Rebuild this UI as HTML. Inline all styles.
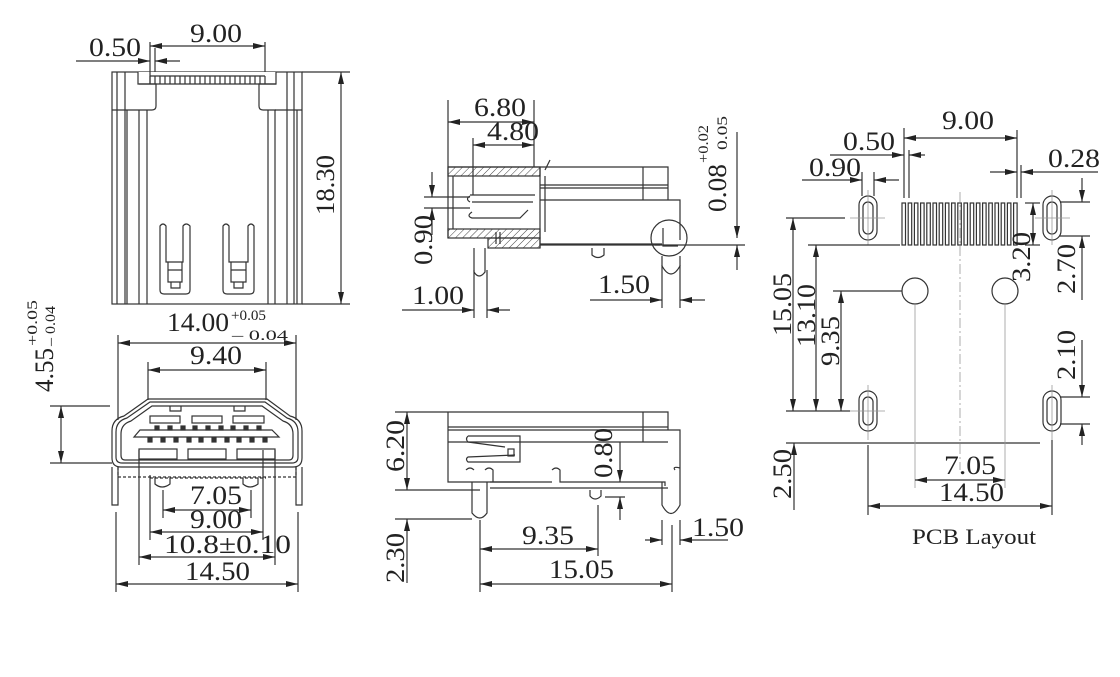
<!DOCTYPE html>
<html><head><meta charset="utf-8"><style>
html,body{margin:0;padding:0;background:#fff}
svg{display:block}
text{font-family:"Liberation Serif",serif;fill:#222}
</style></head><body>
<svg width="1120" height="677" viewBox="0 0 1120 677" xmlns="http://www.w3.org/2000/svg">
<defs>
<marker id="a" viewBox="0 0 12 6" refX="12" refY="3" markerWidth="12" markerHeight="6" markerUnits="userSpaceOnUse" orient="auto-start-reverse"><path d="M0,0 L12,3 L0,6 Z" fill="#222"/></marker>
<pattern id="h" width="5" height="5" patternUnits="userSpaceOnUse" patternTransform="rotate(45)"><line x1="0" y1="0" x2="0" y2="5" stroke="#444" stroke-width="1"/></pattern>
</defs>
<g stroke="#333" stroke-width="1.2" fill="none">
<!-- ===== Top-left view ===== -->
<rect x="112" y="72" width="190" height="232"/>
<line x1="117" y1="72" x2="117" y2="304"/><line x1="125" y1="72" x2="125" y2="304"/><line x1="127" y1="110" x2="127" y2="304"/><line x1="139" y1="110" x2="139" y2="304"/><line x1="147" y1="110" x2="147" y2="304"/>
<line x1="268" y1="110" x2="268" y2="304"/><line x1="275" y1="110" x2="275" y2="304"/><line x1="287" y1="72" x2="287" y2="304"/><line x1="294" y1="72" x2="294" y2="304"/><line x1="297" y1="110" x2="297" y2="304"/>
<line x1="112" y1="110" x2="139" y2="110"/><line x1="275" y1="110" x2="302" y2="110"/>
<path d="M138,72 V84 H276 V72" fill="#fff"/>
<path d="M139,84 H156 V106 Q156,110 152,110 H139"/><path d="M276,84 H259 V106 Q259,110 263,110 H276"/>
<path d="M150,84 V76 M155,84 V76 M160,84 V76 M165,84 V76 M170,84 V76 M175,84 V76 M180,84 V76 M185,84 V76 M190,84 V76 M195,84 V76 M200,84 V76 M205,84 V76 M210,84 V76 M215,84 V76 M220,84 V76 M225,84 V76 M230,84 V76 M235,84 V76 M240,84 V76 M245,84 V76 M250,84 V76 M255,84 V76 M260,84 V76 M265,84 V76"/>
<path d="M150,76 H265"/>
<path d="M160,226 Q163,222 166,226 V262 H183 V226 Q186,222 190,226 V290 Q190,294 186,294 H164 Q160,294 160,290 Z"/>
<path d="M168,262 V282 H182 V262 M168,270 H182 M171,282 V288 H180 V282"/>
<path d="M223,226 Q226,222 229,226 V262 H248 V226 Q251,222 254,226 V290 Q254,294 250,294 H227 Q223,294 223,290 Z"/>
<path d="M231,262 V282 H246 V262 M231,270 H246 M234,282 V288 H243 V282"/>
<line x1="302" y1="72" x2="350" y2="72"/><line x1="302" y1="304" x2="350" y2="304"/>
<line x1="341" y1="72" x2="341" y2="304" marker-start="url(#a)" marker-end="url(#a)"/>
<line x1="150" y1="42" x2="150" y2="84"/><line x1="265" y1="42" x2="265" y2="72"/>
<line x1="150" y1="46" x2="265" y2="46" marker-start="url(#a)" marker-end="url(#a)"/>
<line x1="76" y1="61" x2="150" y2="61" marker-end="url(#a)"/><line x1="180" y1="61" x2="155" y2="61" marker-end="url(#a)"/><line x1="155" y1="48" x2="155" y2="72"/>

<!-- ===== Front view ===== -->
<line x1="118" y1="335" x2="118" y2="420"/><line x1="296" y1="335" x2="296" y2="420"/>
<line x1="118" y1="343" x2="296" y2="343" marker-start="url(#a)" marker-end="url(#a)"/>
<line x1="148" y1="362" x2="148" y2="400"/><line x1="266" y1="362" x2="266" y2="400"/>
<line x1="148" y1="370" x2="266" y2="370" marker-start="url(#a)" marker-end="url(#a)"/>
<path d="M148,399 H267 L290,416 Q302,419 302,431 V458 Q302,467 293,467 H121 Q112,467 112,458 V431 Q112,419 124,416 Z"/>
<path d="M150,402 H265 L287,418 Q298,421 298,432 V457 Q298,463 292,463 H122 Q116,463 116,457 V432 Q116,421 127,418 Z"/>
<path d="M152,406 H262 L283,421 Q293,424 293,434 V455 Q293,460 289,460 H125 Q121,460 121,455 V434 Q121,424 131,421 Z"/>
<path d="M170,406 V411 H181 V406 M234,406 V411 H245 V406"/>
<rect x="150" y="416" width="30" height="7"/><rect x="192" y="416" width="30" height="7"/><rect x="233" y="416" width="31" height="7"/>
<path d="M140,430 H272 L279,437 H134 Z"/>
<g fill="#333">
<rect x="155" y="426" width="4" height="4"/><rect x="168" y="426" width="4" height="4"/><rect x="181" y="426" width="4" height="4"/><rect x="193" y="426" width="4" height="4"/><rect x="206" y="426" width="4" height="4"/><rect x="219" y="426" width="4" height="4"/><rect x="231" y="426" width="4" height="4"/><rect x="244" y="426" width="4" height="4"/><rect x="257" y="426" width="4" height="4"/>
<rect x="148" y="438" width="4" height="4"/><rect x="161" y="438" width="4" height="4"/><rect x="174" y="438" width="4" height="4"/><rect x="187" y="438" width="4" height="4"/><rect x="199" y="438" width="4" height="4"/><rect x="212" y="438" width="4" height="4"/><rect x="225" y="438" width="4" height="4"/><rect x="237" y="438" width="4" height="4"/><rect x="250" y="438" width="4" height="4"/><rect x="263" y="438" width="4" height="4"/>
</g>
<rect x="139" y="449" width="38" height="10"/><rect x="188" y="449" width="38" height="10"/><rect x="237" y="449" width="38" height="10"/>
<path d="M118,467 V477 H296 V467 M150,478 H266" stroke-dasharray="3 2"/>
<path d="M155,478 V484 Q162,490 170,484 V478 M243,478 V484 Q250,490 258,484 V478"/>
<path d="M112,467 V505 H118 V467 M296,467 V505 H302 V467"/>
<line x1="50" y1="406" x2="110" y2="406"/><line x1="50" y1="463" x2="112" y2="463"/>
<line x1="61" y1="406" x2="61" y2="463" marker-start="url(#a)" marker-end="url(#a)"/>
<line x1="163" y1="490" x2="163" y2="518"/><line x1="251" y1="490" x2="251" y2="518"/>
<line x1="163" y1="510" x2="251" y2="510" marker-start="url(#a)" marker-end="url(#a)"/>
<line x1="150" y1="475" x2="150" y2="540"/><line x1="263" y1="450" x2="263" y2="540"/>
<line x1="150" y1="532" x2="263" y2="532" marker-start="url(#a)" marker-end="url(#a)"/>
<line x1="139" y1="450" x2="139" y2="565"/><line x1="275" y1="450" x2="275" y2="565"/>
<line x1="139" y1="557" x2="275" y2="557" marker-start="url(#a)" marker-end="url(#a)"/>
<line x1="116" y1="512" x2="116" y2="592"/><line x1="298" y1="512" x2="298" y2="592"/>
<line x1="116" y1="584" x2="298" y2="584" marker-start="url(#a)" marker-end="url(#a)"/>

<!-- ===== Side view top ===== -->
<rect x="448" y="167" width="92" height="9" fill="url(#h)"/>
<rect x="448" y="229" width="92" height="9" fill="url(#h)"/>
<rect x="488" y="238" width="52" height="10" fill="url(#h)"/>
<path d="M448,167 H668 V200 H680 V240 M448,167 V238 M453,176 V229 M540,167 V248 M545,176 V232 M540,185 H668 M540,188 H668 M540,200 H668 V185 M643,167 V200"/>
<path d="M540,244 H662 M496,232 V244 M500,232 V244 M660,245 H540"/>
<path d="M470,195 H535 M472,202 H533 M472,212 Q466,216 472,218 H520 L528,210"/>
<path d="M470,196 Q465,199 470,202 M545,170 L550,160"/>
<circle cx="669" cy="238" r="18"/><path d="M663,228 V246 H678"/>
<path d="M474,248 V272 Q479,280 485,272 V248"/><path d="M662,256 V266 Q671,282 680,266 V256"/>
<path d="M592,248 V255 Q598,260 604,255 V248"/>
<line x1="448" y1="100" x2="448" y2="167"/><line x1="534" y1="100" x2="534" y2="167"/><line x1="473" y1="138" x2="473" y2="195"/>
<line x1="448" y1="122" x2="534" y2="122" marker-start="url(#a)" marker-end="url(#a)"/>
<line x1="473" y1="145" x2="534" y2="145" marker-start="url(#a)" marker-end="url(#a)"/>
<line x1="424" y1="197" x2="470" y2="197"/><line x1="424" y1="208" x2="470" y2="208"/>
<line x1="432" y1="172" x2="432" y2="197" marker-end="url(#a)"/><line x1="432" y1="235" x2="432" y2="208" marker-end="url(#a)"/>
<line x1="737" y1="132" x2="737" y2="238" marker-end="url(#a)"/><line x1="737" y1="270" x2="737" y2="245" marker-end="url(#a)"/>
<line x1="655" y1="245" x2="745" y2="245"/>
<line x1="474" y1="270" x2="474" y2="318"/><line x1="487" y1="270" x2="487" y2="318"/>
<line x1="402" y1="310" x2="474" y2="310" marker-end="url(#a)"/><line x1="510" y1="310" x2="487" y2="310" marker-end="url(#a)"/>
<line x1="662" y1="265" x2="662" y2="308"/><line x1="680" y1="265" x2="680" y2="308"/>
<line x1="590" y1="300" x2="662" y2="300" marker-end="url(#a)"/><line x1="705" y1="300" x2="680" y2="300" marker-end="url(#a)"/>

<!-- ===== Side view bottom ===== -->
<path d="M448,412 H668 V430 H680 V490 M448,412 V482 H520 M448,427 H668 M448,430 H668 M448,442 H668 M643,412 V442"/>
<path d="M468,436 H520 V462 H468 Q465,459 468,457 L515,455 M468,436 Q465,439 468,442 L505,447"/>
<rect x="508" y="449" width="6" height="7"/>
<path d="M472,482 V513 Q480,523 487,513 V482 M466,470 Q470,466 474,470 M485,470 Q489,466 493,470 V482 M552,470 Q556,466 560,470 V482 H665 V486 M490,488 H668 M490,482 H552"/>
<path d="M662,482 V505 Q671,522 680,505 V490 M675,470 Q672,466 680,468"/>
<path d="M590,490 V496 Q595,502 601,496 V490"/>
<line x1="395" y1="412" x2="448" y2="412"/><line x1="395" y1="490" x2="480" y2="490"/>
<line x1="407" y1="412" x2="407" y2="490" marker-start="url(#a)" marker-end="url(#a)"/>
<line x1="395" y1="519" x2="472" y2="519"/>
<line x1="407" y1="519" x2="407" y2="583" marker-start="url(#a)"/>
<line x1="620" y1="442" x2="620" y2="482" marker-end="url(#a)"/><line x1="620" y1="520" x2="620" y2="497" marker-end="url(#a)"/>
<line x1="605" y1="497" x2="625" y2="497"/>
<line x1="480" y1="520" x2="480" y2="592"/><line x1="598" y1="505" x2="598" y2="556"/>
<line x1="480" y1="549" x2="598" y2="549" marker-start="url(#a)" marker-end="url(#a)"/>
<line x1="672" y1="525" x2="672" y2="592"/>
<line x1="480" y1="584" x2="672" y2="584" marker-start="url(#a)" marker-end="url(#a)"/>
<line x1="662" y1="520" x2="662" y2="545"/><line x1="680" y1="520" x2="680" y2="545"/>
<line x1="645" y1="540" x2="662" y2="540" marker-end="url(#a)"/><line x1="728" y1="540" x2="680" y2="540" marker-end="url(#a)"/>

<!-- ===== PCB layout ===== -->
<g stroke="#333">
<rect x="859" y="196" width="18" height="44" rx="9"/><rect x="863" y="202" width="10" height="32" rx="5"/>
<rect x="1043" y="196" width="18" height="44" rx="9"/><rect x="1047" y="202" width="10" height="32" rx="5"/>
<rect x="859" y="391" width="18" height="40" rx="9"/><rect x="863" y="397" width="10" height="28" rx="5"/>
<rect x="1043" y="391" width="18" height="40" rx="9"/><rect x="1047" y="397" width="10" height="28" rx="5"/>
<circle cx="915" cy="291" r="13"/><circle cx="1005" cy="291" r="13"/>
</g>
<g stroke="#333">
<rect x="902" y="203" width="3.5" height="42"/><rect x="908.2" y="203" width="3.5" height="42"/><rect x="914.4" y="203" width="3.5" height="42"/><rect x="920.6" y="203" width="3.5" height="42"/><rect x="926.8" y="203" width="3.5" height="42"/><rect x="933" y="203" width="3.5" height="42"/><rect x="939.2" y="203" width="3.5" height="42"/><rect x="945.4" y="203" width="3.5" height="42"/><rect x="951.6" y="203" width="3.5" height="42"/><rect x="957.8" y="203" width="3.5" height="42"/><rect x="964" y="203" width="3.5" height="42"/><rect x="970.2" y="203" width="3.5" height="42"/><rect x="976.4" y="203" width="3.5" height="42"/><rect x="982.6" y="203" width="3.5" height="42"/><rect x="988.8" y="203" width="3.5" height="42"/><rect x="995" y="203" width="3.5" height="42"/><rect x="1001.2" y="203" width="3.5" height="42"/><rect x="1007.4" y="203" width="3.5" height="42"/><rect x="1013.6" y="203" width="3.5" height="42"/>
</g>
<g stroke="#999" stroke-width="0.8">
<line x1="960" y1="192" x2="960" y2="470" stroke-dasharray="10 3 2 3"/>
<line x1="850" y1="218" x2="885" y2="218"/><line x1="1035" y1="218" x2="1070" y2="218"/>
<line x1="868" y1="190" x2="868" y2="245"/><line x1="1052" y1="190" x2="1052" y2="245"/>
<line x1="850" y1="411" x2="885" y2="411"/><line x1="868" y1="385" x2="868" y2="440"/><line x1="1052" y1="385" x2="1052" y2="440"/>
</g>
<line x1="904" y1="128" x2="904" y2="198"/><line x1="909" y1="150" x2="909" y2="198"/><line x1="1017" y1="130" x2="1017" y2="198"/><line x1="1021" y1="165" x2="1021" y2="198"/>
<line x1="904" y1="138" x2="1017" y2="138" marker-start="url(#a)" marker-end="url(#a)"/>
<line x1="830" y1="155" x2="904" y2="155" marker-end="url(#a)"/><line x1="925" y1="155" x2="909" y2="155" marker-end="url(#a)"/>
<line x1="862" y1="172" x2="862" y2="196"/><line x1="874" y1="172" x2="874" y2="196"/>
<line x1="802" y1="180" x2="862" y2="180" marker-end="url(#a)"/><line x1="899" y1="180" x2="874" y2="180" marker-end="url(#a)"/>
<line x1="990" y1="172" x2="1017" y2="172" marker-end="url(#a)"/><line x1="1098" y1="172" x2="1021" y2="172" marker-end="url(#a)"/>
<line x1="786" y1="218" x2="845" y2="218"/><line x1="808" y1="245" x2="900" y2="245"/><line x1="833" y1="291" x2="902" y2="291"/><line x1="786" y1="411" x2="850" y2="411"/>
<line x1="793" y1="218" x2="793" y2="411" marker-start="url(#a)" marker-end="url(#a)"/>
<line x1="816" y1="245" x2="816" y2="411" marker-start="url(#a)" marker-end="url(#a)"/>
<line x1="841" y1="291" x2="841" y2="411" marker-start="url(#a)" marker-end="url(#a)"/>
<line x1="786" y1="443" x2="1040" y2="443"/>
<line x1="794" y1="443" x2="794" y2="510" marker-start="url(#a)"/>
<line x1="1025" y1="203" x2="1040" y2="203"/><line x1="1025" y1="245" x2="1040" y2="245"/>
<line x1="1033" y1="203" x2="1033" y2="245" marker-start="url(#a)" marker-end="url(#a)"/>
<line x1="1060" y1="202" x2="1090" y2="202"/><line x1="1060" y1="236" x2="1090" y2="236"/>
<line x1="1082" y1="178" x2="1082" y2="202" marker-end="url(#a)"/><line x1="1082" y1="300" x2="1082" y2="236" marker-end="url(#a)"/>
<line x1="1060" y1="397" x2="1090" y2="397"/><line x1="1060" y1="424" x2="1090" y2="424"/>
<line x1="1082" y1="340" x2="1082" y2="397" marker-end="url(#a)"/><line x1="1082" y1="445" x2="1082" y2="424" marker-end="url(#a)"/>
<g stroke="#999" stroke-width="0.8"><line x1="915" y1="304" x2="915" y2="488"/><line x1="1005" y1="304" x2="1005" y2="488"/></g>
<line x1="915" y1="480" x2="1005" y2="480" marker-start="url(#a)" marker-end="url(#a)"/>
<line x1="868" y1="445" x2="868" y2="515"/><line x1="1052" y1="440" x2="1052" y2="515"/>
<line x1="868" y1="506" x2="1052" y2="506" marker-start="url(#a)" marker-end="url(#a)"/>
</g>

<g font-size="26">
<text x="190" y="42" textLength="52" lengthAdjust="spacingAndGlyphs">9.00</text>
<text x="89" y="56" textLength="52" lengthAdjust="spacingAndGlyphs">0.50</text>
<text transform="translate(334,215) rotate(-90)" textLength="60" lengthAdjust="spacingAndGlyphs">18.30</text>
<text x="167" y="331" textLength="62" lengthAdjust="spacingAndGlyphs">14.00</text>
<text x="231" y="320" font-size="15" textLength="35" lengthAdjust="spacingAndGlyphs">+0.05</text>
<text x="232" y="340" font-size="15" textLength="56" lengthAdjust="spacingAndGlyphs">–  0.04</text>
<text x="190" y="364" textLength="52" lengthAdjust="spacingAndGlyphs">9.40</text>
<text transform="translate(53,392) rotate(-90)" textLength="44" lengthAdjust="spacingAndGlyphs">4.55</text>
<text transform="translate(37,346) rotate(-90)" font-size="15" textLength="46" lengthAdjust="spacingAndGlyphs">+0.05</text>
<text transform="translate(55,346) rotate(-90)" font-size="15" textLength="40" lengthAdjust="spacingAndGlyphs">– 0.04</text>
<text x="190" y="504" textLength="52" lengthAdjust="spacingAndGlyphs">7.05</text>
<text x="190" y="528" textLength="52" lengthAdjust="spacingAndGlyphs">9.00</text>
<text x="164" y="553" textLength="127" lengthAdjust="spacingAndGlyphs">10.8±0.10</text>
<text x="185" y="580" textLength="65" lengthAdjust="spacingAndGlyphs">14.50</text>

<text x="474" y="116" textLength="52" lengthAdjust="spacingAndGlyphs">6.80</text>
<text x="487" y="140" textLength="52" lengthAdjust="spacingAndGlyphs">4.80</text>
<text transform="translate(432,265) rotate(-90)" textLength="50" lengthAdjust="spacingAndGlyphs">0.90</text>
<text transform="translate(726,212) rotate(-90)" textLength="48" lengthAdjust="spacingAndGlyphs">0.08</text>
<text transform="translate(708,163) rotate(-90)" font-size="15" textLength="38" lengthAdjust="spacingAndGlyphs">+0.02</text>
<text transform="translate(727,150) rotate(-90)" font-size="15" textLength="34" lengthAdjust="spacingAndGlyphs">0.05</text>
<text x="412" y="304" textLength="52" lengthAdjust="spacingAndGlyphs">1.00</text>
<text x="598" y="293" textLength="52" lengthAdjust="spacingAndGlyphs">1.50</text>

<text transform="translate(404,472) rotate(-90)" textLength="52" lengthAdjust="spacingAndGlyphs">6.20</text>
<text transform="translate(612,478) rotate(-90)" textLength="50" lengthAdjust="spacingAndGlyphs">0.80</text>
<text transform="translate(404,583) rotate(-90)" textLength="50" lengthAdjust="spacingAndGlyphs">2.30</text>
<text x="522" y="544" textLength="52" lengthAdjust="spacingAndGlyphs">9.35</text>
<text x="549" y="578" textLength="65" lengthAdjust="spacingAndGlyphs">15.05</text>
<text x="692" y="536" textLength="52" lengthAdjust="spacingAndGlyphs">1.50</text>

<text x="942" y="129" textLength="52" lengthAdjust="spacingAndGlyphs">9.00</text>
<text x="843" y="150" textLength="52" lengthAdjust="spacingAndGlyphs">0.50</text>
<text x="809" y="176" textLength="52" lengthAdjust="spacingAndGlyphs">0.90</text>
<text x="1048" y="167" textLength="52" lengthAdjust="spacingAndGlyphs">0.28</text>
<text transform="translate(791,336) rotate(-90)" textLength="63" lengthAdjust="spacingAndGlyphs">15.05</text>
<text transform="translate(815,347) rotate(-90)" textLength="63" lengthAdjust="spacingAndGlyphs">13.10</text>
<text transform="translate(839,366) rotate(-90)" textLength="50" lengthAdjust="spacingAndGlyphs">9.35</text>
<text transform="translate(791,499) rotate(-90)" textLength="50" lengthAdjust="spacingAndGlyphs">2.50</text>
<text transform="translate(1030,282) rotate(-90)" textLength="50" lengthAdjust="spacingAndGlyphs">3.20</text>
<text transform="translate(1075,294) rotate(-90)" textLength="50" lengthAdjust="spacingAndGlyphs">2.70</text>
<text transform="translate(1075,380) rotate(-90)" textLength="50" lengthAdjust="spacingAndGlyphs">2.10</text>
<text x="944" y="474" textLength="52" lengthAdjust="spacingAndGlyphs">7.05</text>
<text x="939" y="501" textLength="65" lengthAdjust="spacingAndGlyphs">14.50</text>
<text x="912" y="544" font-size="22" textLength="124" lengthAdjust="spacingAndGlyphs">PCB Layout</text>
</g>
</svg>
</body></html>
